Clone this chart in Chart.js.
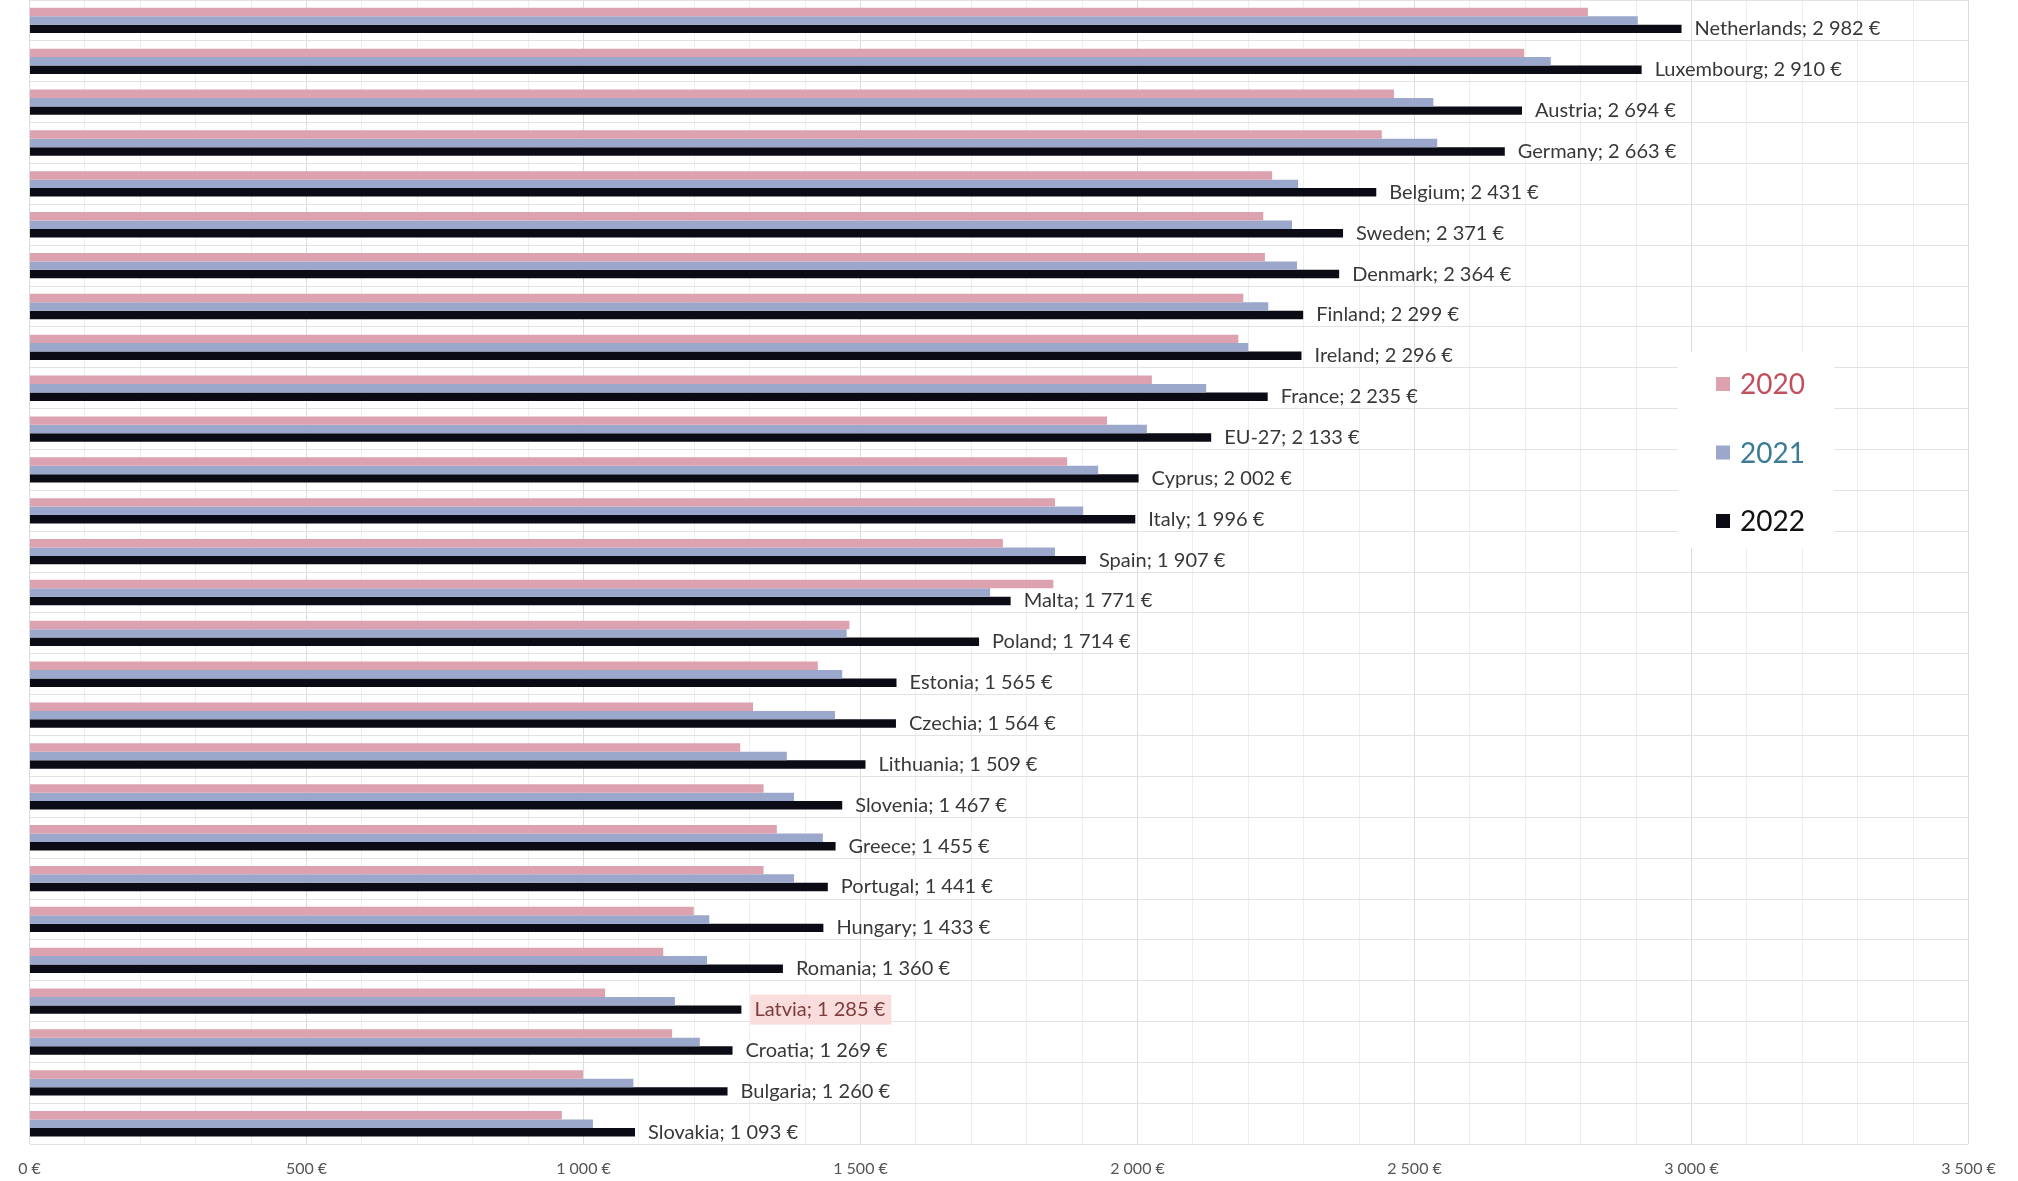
<!DOCTYPE html>
<html>
<head>
<meta charset="utf-8">
<title>Average monthly wages 2020–2022</title>
<script src="https://cdn.jsdelivr.net/npm/chart.js@4.4.1/dist/chart.umd.min.js"></script>
<style>
  html, body { margin: 0; padding: 0; background: #fff; }
  #wrap { width: 2018px; height: 1181px; }
</style>
</head>
<body>
<div id="wrap"><canvas id="wages" width="2018" height="1181"></canvas></div>
<script>
const countries = [
  'Netherlands', 'Luxembourg', 'Austria', 'Germany', 'Belgium', 'Sweden', 'Denmark',
  'Finland', 'Ireland', 'France', 'EU-27', 'Cyprus', 'Italy', 'Spain', 'Malta',
  'Poland', 'Estonia', 'Czechia', 'Lithuania', 'Slovenia', 'Greece', 'Portugal',
  'Hungary', 'Romania', 'Latvia', 'Croatia', 'Bulgaria', 'Slovakia'
];
const years = ['2020', '2021', '2022'];
const wages2020 = [
  2813, 2698, 2463, 2441, 2243, 2227, 2230, 2191, 2182, 2026, 1945, 1873, 1851, 1757,
  1848, 1480, 1423, 1306, 1283, 1325, 1349, 1325, 1199, 1144, 1039, 1160, 999, 961
];
const wages2021 = [
  2903, 2746, 2534, 2541, 2290, 2279, 2288, 2236, 2200, 2124, 2017, 1929, 1902, 1851,
  1734, 1475, 1467, 1454, 1367, 1380, 1432, 1380, 1227, 1223, 1165, 1210, 1090, 1017
];
const wages2022 = [
  2982, 2910, 2694, 2663, 2431, 2371, 2364, 2299, 2296, 2235, 2133, 2002, 1996, 1907,
  1771, 1714, 1565, 1564, 1509, 1467, 1455, 1441, 1433, 1360, 1285, 1269, 1260, 1093
];
const highlighted = 'Latvia';

const barColors = ['#dca2af', '#9ba7cb', '#0b0b16'];
const legendTextColors = ['#c2505e', '#3b7b98', '#111111'];

// 2 982 -> "2 982 €"
function euro(v) {
  return String(v).replace(/\B(?=(\d{3})+(?!\d))/g, ' ') + ' €';
}

// "Country; value" next to the end of the 2022 bar
const valueLabels = {
  id: 'valueLabels',
  afterDatasetsDraw(chart) {
    const ctx = chart.ctx;
    const meta = chart.getDatasetMeta(2);
    ctx.save();
    ctx.font = '20px Lato';
    ctx.textBaseline = 'middle';
    ctx.textAlign = 'left';
    meta.data.forEach((bar, i) => {
      const text = countries[i] + '; ' + euro(wages2022[i]);
      const x = bar.x + 13;
      const y = bar.y;
      if (countries[i] === highlighted) {
        const w = ctx.measureText(text).width;
        ctx.fillStyle = '#f9dcdc';
        ctx.fillRect(x - 4, y - 15, w + 10, 30);
        ctx.fillStyle = '#7e3c3c';
      } else {
        ctx.fillStyle = '#383838';
      }
      ctx.fillText(text, x, y);
    });
    ctx.restore();
  }
};

// legend box on the right, over the grid
const sideLegend = {
  id: 'sideLegend',
  afterDraw(chart) {
    const ctx = chart.ctx;
    ctx.save();
    ctx.fillStyle = '#ffffff';
    ctx.fillRect(1678, 352, 156, 196);
    ctx.font = '28px Lato';
    ctx.textBaseline = 'middle';
    chart.data.datasets.forEach((ds, i) => {
      const y = 384 + i * 68.5;
      ctx.fillStyle = ds.backgroundColor;
      ctx.fillRect(1716, y - 7, 14, 14);
      ctx.fillStyle = legendTextColors[i];
      ctx.fillText(ds.label, 1740, y + 1);
    });
    ctx.restore();
  }
};

new Chart(document.getElementById('wages').getContext('2d'), {
  type: 'bar',
  data: {
    labels: countries,
    datasets: [
      { label: years[0], data: wages2020, backgroundColor: barColors[0] },
      { label: years[1], data: wages2021, backgroundColor: barColors[1] },
      { label: years[2], data: wages2022, backgroundColor: barColors[2] }
    ]
  },
  options: {
    indexAxis: 'y',
    responsive: false,
    animation: false,
    datasets: {
      bar: { categoryPercentage: 0.62, barPercentage: 1.0, borderSkipped: false }
    },
    // bottom padding is negative so the tick labels sit low under a tall plot
    layout: { padding: { left: 29.5, right: 49.5, top: 0, bottom: -12.2 } },
    plugins: {
      legend: { display: false },
      tooltip: { enabled: false }
    },
    scales: {
      x: {
        min: 0,
        max: 3500,
        border: { display: false },
        grid: {
          drawTicks: false,
          color: (c) => (c.tick && c.tick.value % 500 === 0 ? '#dcdcdc' : '#efefef')
        },
        ticks: {
          stepSize: 100,
          autoSkip: false,
          maxRotation: 0,
          padding: 14.9,
          color: '#555555',
          font: { family: 'Lato', size: 16 },
          callback: (v) => (v % 500 === 0 ? euro(v) : '')
        }
      },
      y: {
        border: { display: false },
        grid: { drawTicks: false, offset: true, color: '#e2e2e2' },
        ticks: { display: false }
      }
    }
  },
  plugins: [valueLabels, sideLegend]
});
</script>
</body>
</html>
